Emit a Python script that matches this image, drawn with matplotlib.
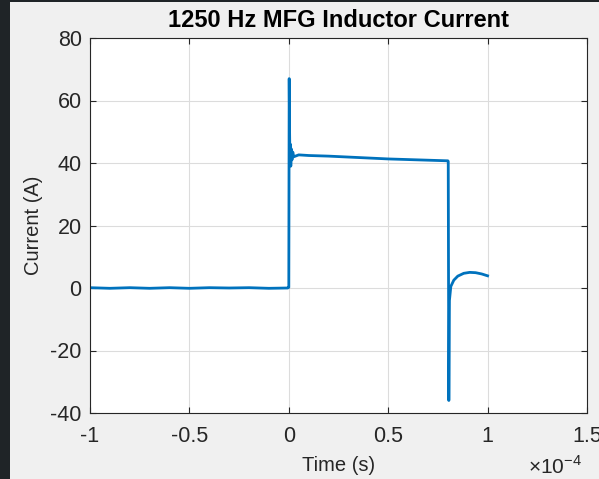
import matplotlib
matplotlib.use('Agg')
import matplotlib.pyplot as plt
from matplotlib.patches import Rectangle
from matplotlib.ticker import FuncFormatter

plt.rcParams['font.family'] = ['Liberation Sans', 'DejaVu Sans']
plt.rcParams['mathtext.fontset'] = 'custom'
plt.rcParams['mathtext.rm'] = 'Liberation Sans'

# measured inductor current, time in seconds, current in amps
time_s = [-1.00e-4, -0.90e-4, -0.80e-4, -0.70e-4, -0.60e-4, -0.50e-4,
          -0.40e-4, -0.30e-4, -0.20e-4, -0.10e-4, -0.005e-4, 0.0,
          0.002e-4, 0.004e-4, 0.006e-4, 0.008e-4, 0.010e-4, 0.013e-4,
          0.016e-4, 0.020e-4, 0.025e-4, 0.05e-4, 0.10e-4, 0.20e-4,
          0.30e-4, 0.40e-4, 0.50e-4, 0.60e-4, 0.70e-4, 0.80e-4,
          0.802e-4, 0.805e-4, 0.808e-4, 0.815e-4, 0.83e-4, 0.85e-4,
          0.88e-4, 0.91e-4, 0.94e-4, 0.97e-4, 1.00e-4]
current_a = [0.1, -0.1, 0.1, -0.1, 0.1, -0.1,
             0.1, 0.0, 0.1, -0.1, 0.0, 0.2,
             67.0, 50.0, 40.0, 46.0, 39.0, 44.5,
             41.0, 43.5, 42.0, 42.6, 42.4, 42.2,
             41.9, 41.6, 41.3, 41.1, 40.9, 40.7,
             40.5, -36.0, -4.0, 0.5, 2.5, 3.8,
             4.7, 5.0, 4.9, 4.5, 3.9]

x_ticks = [-1e-4, -0.5e-4, 0, 0.5e-4, 1e-4, 1.5e-4]
y_ticks = [-40, -20, 0, 20, 40, 60, 80]

bg = '#f0f0f0'
ink = '#262626'

fig = plt.figure(figsize=(5.99, 4.79), dpi=100, facecolor=bg)
# dark window border seen on the screenshot
fig.patches.append(Rectangle((0, 0), 10 / 599, 1, transform=fig.transFigure,
                             facecolor='#1f2427', edgecolor='none', zorder=0))
fig.patches.append(Rectangle((0, 1 - 2 / 479), 1, 2 / 479, transform=fig.transFigure,
                             facecolor='#1f2427', edgecolor='none', zorder=0))

ax = fig.add_axes([90 / 599, 66 / 479, 497 / 599, 375 / 479])
ax.plot(time_s, current_a, color='#0072BD', linewidth=2.0, solid_joinstyle='round')

ax.set_xlim(-1e-4, 1.5e-4)
ax.set_ylim(-40, 80)
ax.set_xticks(x_ticks)
ax.set_yticks(y_ticks)
ax.xaxis.set_major_formatter(FuncFormatter(lambda v, p: '%g' % round(v / 1e-4, 3)))
ax.yaxis.set_major_formatter(FuncFormatter(lambda v, p: '%g' % v))

ax.grid(True, color='#dcdcdc', linewidth=0.8)
ax.set_axisbelow(True)
ax.tick_params(direction='in', length=4, width=0.8, colors=ink,
               labelsize=15.5, top=True, right=True)
ax.tick_params(axis='x', pad=9)
ax.tick_params(axis='y', pad=6)
for s in ax.spines.values():
    s.set_color(ink)
    s.set_linewidth(0.8)

ax.set_title('1250 Hz MFG Inductor Current', fontsize=17, fontweight='bold',
             color='black', pad=8)
ax.set_xlabel('Time (s)', fontsize=14.5, color=ink, labelpad=7)
ax.set_ylabel('Current (A)', fontsize=14.5, color=ink, labelpad=5)

fig.text(0.972, 0.003, r'$\times10^{-4}$', fontsize=15, color=ink, ha='right', va='bottom')

fig.savefig('out.png', dpi=100, facecolor=bg)
